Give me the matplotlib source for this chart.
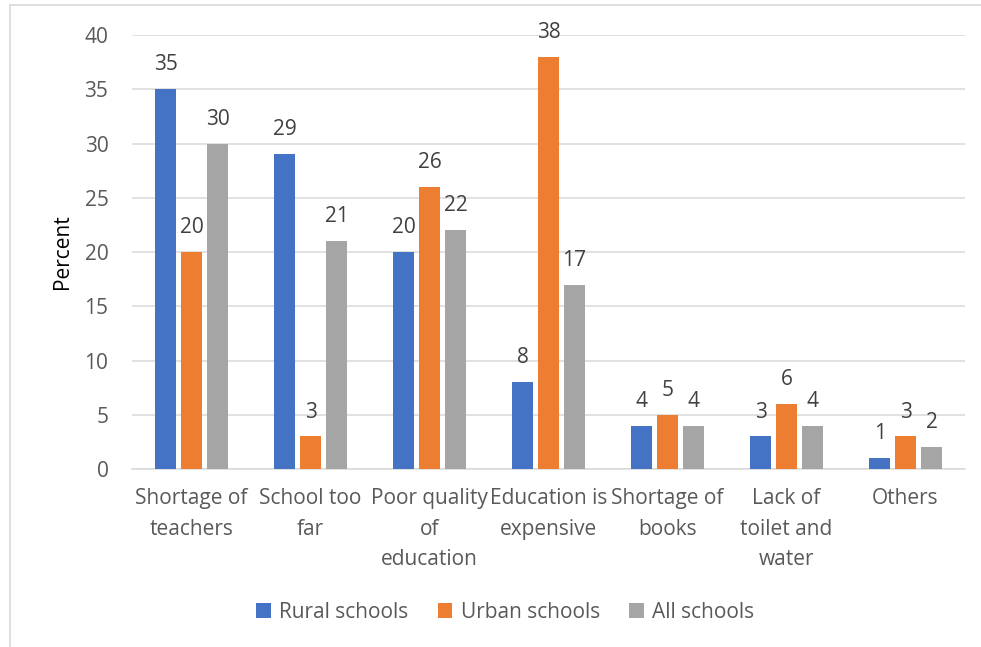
import numpy as np
import matplotlib.pyplot as plt
from matplotlib.patches import Rectangle

plt.rcParams.update({
    "font.family": ["Open Sans", "DejaVu Sans"],
    "font.size": 15,
    "text.color": "#595959",
    "xtick.color": "#595959",
    "ytick.color": "#595959",
})

# --- data ---
categories = ["Shortage of\nteachers", "School too\nfar", "Poor quality\nof\neducation",
              "Education is\nexpensive", "Shortage of\nbooks", "Lack of\ntoilet and\nwater", "Others"]
series_names = ["Rural schools", "Urban schools", "All schools"]
rural = [35, 29, 20, 8, 4, 3, 1]
urban = [20, 3, 26, 38, 5, 6, 3]
all_schools = [30, 21, 22, 17, 4, 4, 2]
colors = ["#4472C4", "#ED7D31", "#A5A5A5"]
yticks = [0, 5, 10, 15, 20, 25, 30, 35, 40]

fig = plt.figure(figsize=(9.81, 6.47), dpi=100)
ax = fig.add_axes([0.1346, 0.2751, 0.8491, 0.6708])

# chart border (light gray frame)
fig.patches.append(Rectangle((10 / 981, -0.05), 1.2, 1 - 5 / 647 + 0.05, transform=fig.transFigure,
                             fill=False, edgecolor="#d9d9d9", linewidth=1.2, zorder=0))

x = np.arange(len(categories))
w = 0.176
step = 0.218
for i, (vals, name, c) in enumerate(zip([rural, urban, all_schools], series_names, colors)):
    pos = x + (i - 1) * step
    ax.bar(pos, vals, width=w, color=c, label=name, zorder=3)
    for xb, v in zip(pos, vals):
        ax.annotate(str(v), (xb, v), xytext=(0, 10), textcoords="offset points",
                    ha="center", va="bottom", fontsize=15, color="#404040")

ax.set_xlim(-0.5, len(categories) - 0.5)
ax.set_ylim(0, 40)
ax.set_yticks(yticks)
ax.yaxis.grid(True, color="#d9d9d9", linewidth=1.1, zorder=0)
ax.set_axisbelow(True)
for s in ["top", "right", "left"]:
    ax.spines[s].set_visible(False)
ax.spines["bottom"].set_color("#d9d9d9")
ax.spines["bottom"].set_linewidth(1.1)
ax.tick_params(axis="both", length=0, labelsize=15)
ax.tick_params(axis="y", pad=17)
ax.tick_params(axis="x", pad=14)
ax.set_xticks(x)
ax.set_xticklabels(categories, linespacing=1.58, va="top")
ax.set_ylabel("Percent", fontsize=15, labelpad=8)

ax.legend(loc="center", bbox_to_anchor=(0.448, -0.33), ncol=3, frameon=False,
          handlelength=0.7, handleheight=0.7, handletextpad=0.4, columnspacing=1.4,
          fontsize=15)

fig.savefig("out.png", dpi=100, facecolor="white")
